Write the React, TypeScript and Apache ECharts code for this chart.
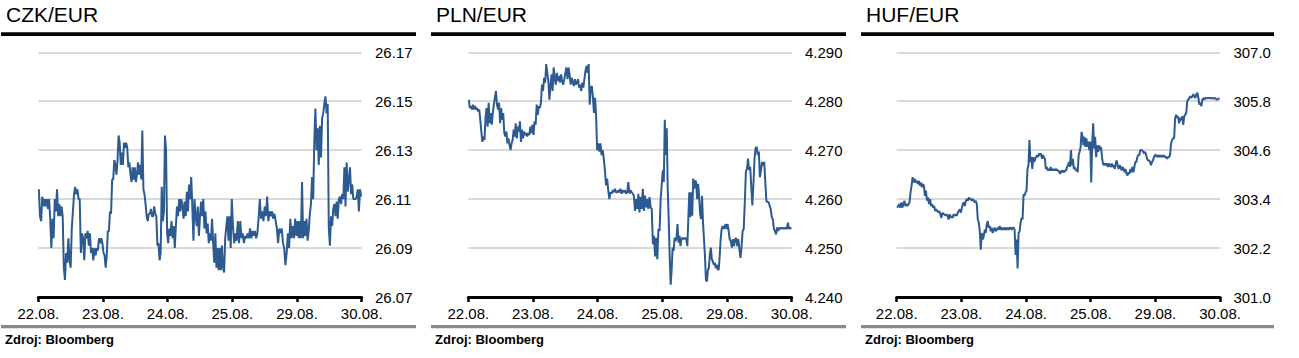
import React, { useEffect, useRef } from "react";
import * as echarts from "echarts";

const dates = ["22.08.", "23.08.", "24.08.", "25.08.", "29.08.", "30.08."];
const titles = ["CZK/EUR", "PLN/EUR", "HUF/EUR"];
const source = "Zdroj: Bloomberg";

// CZK/EUR, one array per trading day
const czk_22 = [26.114, 26.103, 26.101, 26.111, 26.107, 26.110, 26.107, 26.110, 26.106, 26.110, 26.102, 26.090, 26.102, 26.094, 26.110, 26.105, 26.114, 26.103, 26.108, 26.103, 26.107, 26.103, 26.082, 26.077, 26.088, 26.084, 26.094, 26.085, 26.082, 26.098, 26.105, 26.112, 26.115, 26.112, 26.114, 26.110, 26.110, 26.088, 26.096, 26.094, 26.085, 26.096, 26.094, 26.097, 26.091, 26.096, 26.088, 26.090, 26.085, 26.090, 26.087, 26.090, 26.089, 26.094, 26.092, 26.094, 26.092];
const czk_23 = [26.088, 26.087, 26.082, 26.087, 26.097, 26.097, 26.105, 26.104, 26.118, 26.118, 26.126, 26.124, 26.120, 26.126, 26.136, 26.133, 26.124, 26.129, 26.124, 26.133, 26.131, 26.133, 26.131, 26.123, 26.125, 26.120, 26.117, 26.123, 26.118, 26.123, 26.117, 26.120, 26.125, 26.120, 26.124, 26.118, 26.138, 26.114, 26.112, 26.108, 26.103, 26.101, 26.104, 26.104, 26.106, 26.103, 26.103, 26.107, 26.104, 26.103, 26.091, 26.092, 26.085, 26.088, 26.115, 26.101, 26.105, 26.136, 26.130, 26.096];
const czk_24 = [26.092, 26.098, 26.095, 26.101, 26.094, 26.099, 26.090, 26.099, 26.107, 26.103, 26.110, 26.105, 26.110, 26.107, 26.102, 26.109, 26.103, 26.113, 26.105, 26.116, 26.110, 26.119, 26.107, 26.093, 26.110, 26.103, 26.099, 26.107, 26.095, 26.103, 26.109, 26.103, 26.110, 26.098, 26.105, 26.096, 26.100, 26.092, 26.096, 26.093, 26.102, 26.092, 26.084, 26.096, 26.082, 26.090, 26.081, 26.090, 26.081, 26.091, 26.082, 26.080, 26.094, 26.099, 26.103, 26.093, 26.103, 26.090, 26.110];
const czk_25 = [26.099, 26.092, 26.096, 26.093, 26.101, 26.092, 26.101, 26.094, 26.096, 26.092, 26.095, 26.094, 26.096, 26.094, 26.098, 26.094, 26.097, 26.095, 26.097, 26.094, 26.096, 26.102, 26.110, 26.102, 26.105, 26.101, 26.107, 26.103, 26.111, 26.101, 26.105, 26.103, 26.105, 26.102, 26.104, 26.101, 26.098, 26.092, 26.098, 26.096, 26.098, 26.092, 26.090, 26.083, 26.088, 26.096, 26.090, 26.102, 26.094, 26.099, 26.094, 26.102, 26.095];
const czk_29 = [26.101, 26.094, 26.101, 26.094, 26.117, 26.094, 26.101, 26.095, 26.102, 26.093, 26.097, 26.104, 26.108, 26.119, 26.110, 26.134, 26.147, 26.130, 26.139, 26.124, 26.140, 26.127, 26.143, 26.145, 26.149, 26.152, 26.145, 26.149, 26.098, 26.091, 26.103, 26.099, 26.106, 26.108, 26.103, 26.109, 26.102, 26.110, 26.111, 26.108, 26.112, 26.110, 26.123, 26.107, 26.125, 26.113, 26.118, 26.123, 26.112, 26.116, 26.110, 26.110, 26.110, 26.111, 26.114, 26.105, 26.114, 26.111];

// PLN/EUR
const pln_22 = [4.2803, 4.2786, 4.2790, 4.2783, 4.2793, 4.2783, 4.2790, 4.2783, 4.2786, 4.2779, 4.2783, 4.2762, 4.2738, 4.2717, 4.2728, 4.2721, 4.2766, 4.2786, 4.2748, 4.2797, 4.2755, 4.2776, 4.2752, 4.2776, 4.2793, 4.2807, 4.2821, 4.2793, 4.2783, 4.2797, 4.2755, 4.2786, 4.2762, 4.2776, 4.2735, 4.2728, 4.2738, 4.2714, 4.2724, 4.2711, 4.2700, 4.2714, 4.2721, 4.2742, 4.2728, 4.2755, 4.2724, 4.2748, 4.2738, 4.2759, 4.2717, 4.2742, 4.2724, 4.2738, 4.2731, 4.2735, 4.2728, 4.2735, 4.2731, 4.2748, 4.2735, 4.2752];
const pln_23 = [4.2731, 4.2759, 4.2752, 4.2793, 4.2772, 4.2790, 4.2786, 4.2797, 4.2834, 4.2821, 4.2848, 4.2838, 4.2876, 4.2858, 4.2841, 4.2803, 4.2831, 4.2855, 4.2821, 4.2869, 4.2848, 4.2834, 4.2858, 4.2841, 4.2852, 4.2838, 4.2855, 4.2841, 4.2834, 4.2845, 4.2858, 4.2869, 4.2845, 4.2869, 4.2855, 4.2834, 4.2848, 4.2838, 4.2831, 4.2845, 4.2834, 4.2838, 4.2845, 4.2828, 4.2834, 4.2821, 4.2838, 4.2828, 4.2845, 4.2862, 4.2872, 4.2858, 4.2876, 4.2793, 4.2828, 4.2831, 4.2810, 4.2776, 4.2807, 4.2772, 4.2700];
const pln_24 = [4.2714, 4.2697, 4.2714, 4.2690, 4.2700, 4.2683, 4.2659, 4.2628, 4.2642, 4.2618, 4.2600, 4.2614, 4.2611, 4.2618, 4.2614, 4.2621, 4.2614, 4.2614, 4.2618, 4.2614, 4.2621, 4.2611, 4.2618, 4.2614, 4.2618, 4.2611, 4.2614, 4.2635, 4.2611, 4.2618, 4.2614, 4.2611, 4.2607, 4.2576, 4.2600, 4.2580, 4.2611, 4.2573, 4.2604, 4.2580, 4.2621, 4.2576, 4.2607, 4.2583, 4.2600, 4.2580, 4.2604, 4.2583, 4.2580, 4.2508, 4.2525, 4.2483, 4.2521, 4.2477, 4.2539, 4.2535, 4.2600, 4.2631];
const pln_25 = [4.2659, 4.2635, 4.2762, 4.2690, 4.2745, 4.2621, 4.2559, 4.2483, 4.2425, 4.2456, 4.2501, 4.2494, 4.2521, 4.2514, 4.2521, 4.2549, 4.2511, 4.2525, 4.2504, 4.2521, 4.2518, 4.2521, 4.2518, 4.2521, 4.2518, 4.2504, 4.2559, 4.2614, 4.2563, 4.2614, 4.2566, 4.2642, 4.2621, 4.2638, 4.2635, 4.2600, 4.2631, 4.2607, 4.2570, 4.2559, 4.2607, 4.2552, 4.2518, 4.2483, 4.2435, 4.2432, 4.2456, 4.2459, 4.2487, 4.2501, 4.2477, 4.2473, 4.2466, 4.2470, 4.2459, 4.2466, 4.2456, 4.2456, 4.2483, 4.2518, 4.2539, 4.2545, 4.2539, 4.2542, 4.2549, 4.2539];
const pln_29 = [4.2549, 4.2535, 4.2518, 4.2514, 4.2501, 4.2518, 4.2504, 4.2518, 4.2521, 4.2504, 4.2518, 4.2497, 4.2480, 4.2504, 4.2535, 4.2539, 4.2594, 4.2656, 4.2662, 4.2683, 4.2659, 4.2666, 4.2625, 4.2587, 4.2631, 4.2683, 4.2704, 4.2707, 4.2690, 4.2697, 4.2645, 4.2659, 4.2676, 4.2669, 4.2676, 4.2635, 4.2597, 4.2594, 4.2594, 4.2587, 4.2580, 4.2563, 4.2559, 4.2539, 4.2535, 4.2528, 4.2542, 4.2535, 4.2542, 4.2539, 4.2542, 4.2539, 4.2542, 4.2539, 4.2542, 4.2539, 4.2552, 4.2539, 4.2542, 4.2539];

// HUF/EUR
const huf_22 = [303.19, 303.23, 303.28, 303.19, 303.32, 303.19, 303.28, 303.36, 303.23, 303.28, 303.23, 303.28, 303.32, 303.57, 303.73, 303.94, 303.81, 303.90, 303.81, 303.85, 303.77, 303.85, 303.73, 303.81, 303.69, 303.77, 303.73, 303.48, 303.61, 303.36, 303.44, 303.28, 303.40, 303.23, 303.28, 303.19, 303.23, 303.11, 303.15, 303.11, 303.07, 303.11, 303.03, 302.94, 303.07, 303.03, 303.03, 302.99, 303.03, 302.99, 302.90, 303.03, 302.94, 302.99, 302.94, 303.03, 302.99, 303.03, 302.99, 303.07, 303.11, 303.15, 303.07];
const huf_23 = [303.19, 303.28, 303.32, 303.23, 303.36, 303.40, 303.36, 303.44, 303.40, 303.40, 303.36, 303.40, 303.36, 303.32, 303.36, 303.28, 302.90, 302.82, 302.61, 302.16, 302.57, 302.41, 302.49, 302.65, 302.57, 302.78, 302.86, 302.70, 302.74, 302.61, 302.70, 302.57, 302.65, 302.70, 302.61, 302.65, 302.70, 302.65, 302.74, 302.65, 302.70, 302.65, 302.70, 302.65, 302.70, 302.65, 302.70, 302.65, 302.70, 302.70, 302.65, 302.70, 302.70, 302.65, 302.03, 302.41, 301.70, 302.57, 302.61, 302.82, 302.94, 302.90, 303.52, 303.48, 303.57];
const huf_24 = [303.61, 304.14, 304.23, 304.85, 304.31, 304.43, 304.14, 304.43, 304.31, 304.39, 304.43, 304.48, 304.43, 304.52, 304.48, 304.52, 304.39, 304.48, 304.43, 304.39, 304.14, 304.19, 304.10, 304.14, 304.10, 304.19, 304.10, 304.14, 304.10, 304.14, 304.10, 304.14, 304.10, 304.10, 304.06, 304.02, 304.10, 304.06, 304.10, 304.06, 304.10, 304.10, 304.19, 304.23, 304.31, 304.19, 304.60, 304.23, 304.39, 304.14, 304.19, 304.10, 304.14, 304.06, 304.48, 304.56, 304.68, 305.05, 304.93, 304.72, 304.93, 304.68, 304.89, 304.68, 304.81, 304.60, 304.81];
const huf_25 = [303.81, 304.77, 305.26, 304.64, 304.93, 304.43, 304.72, 304.56, 304.72, 304.60, 304.68, 304.43, 304.27, 304.23, 304.27, 304.23, 304.27, 304.19, 304.27, 304.23, 304.19, 304.27, 304.19, 304.23, 304.14, 304.27, 304.35, 304.23, 304.14, 304.23, 304.19, 304.10, 304.19, 304.14, 304.06, 304.14, 304.02, 303.98, 304.06, 304.02, 304.14, 304.06, 304.19, 304.06, 304.19, 304.31, 304.31, 304.43, 304.48, 304.48, 304.60, 304.60, 304.60, 304.56, 304.52, 304.56, 304.48, 304.39, 304.35, 304.35, 304.31, 304.23, 304.31, 304.35, 304.43, 304.48];
const huf_29 = [304.48, 304.43, 304.48, 304.43, 304.48, 304.43, 304.48, 304.43, 304.48, 304.43, 304.43, 304.39, 304.43, 304.43, 304.48, 304.77, 304.85, 304.89, 304.89, 305.39, 305.47, 305.39, 305.43, 305.26, 305.39, 305.34, 305.43, 305.22, 305.43, 305.47, 305.51, 305.80, 305.84, 305.88, 305.92, 305.88, 305.92, 305.97, 305.92, 305.88, 305.97, 306.01, 305.88, 305.72, 305.76, 305.68, 305.84, 305.88, 305.84, 305.88, 305.88, 305.87, 305.88, 305.88, 305.87, 305.88, 305.87, 305.87, 305.88, 305.87, 305.84, 305.84, 305.87, 305.87];

const seriesDays = [
  [czk_22, czk_23, czk_24, czk_25, czk_29],
  [pln_22, pln_23, pln_24, pln_25, pln_29],
  [huf_22, huf_23, huf_24, huf_25, huf_29],
];

// y-axis scales: min, max, step, decimals
const yMin = [26.07, 4.24, 301.0];
const yMax = [26.17, 4.29, 307.0];
const yStep = [0.02, 0.01, 1.2];
const yDecimals = [2, 3, 1];

const FONT = "Liberation Sans";
const LINE_COLOR = "#2c5a91";

const layout = [
  { lineX: 1, lineW: 415, gridLeft: 38.3, titleX: 6 },
  { lineX: 431, lineW: 415, gridLeft: 468.3, titleX: 436 },
  { lineX: 861, lineW: 413, gridLeft: 896.7, titleX: 866 },
];

function toPoints(days: number[][]) {
  const pts: number[][] = [];
  days.forEach((arr, d) => {
    arr.forEach((v, j) => {
      pts.push([d + (j + 0.5) / arr.length, v]);
    });
  });
  return pts;
}

export default function App() {
  const ref = useRef<HTMLDivElement>(null);

  useEffect(() => {
    if (!ref.current) return;
    const chart = echarts.init(ref.current, undefined, { renderer: "svg" });

    const grids: any[] = [];
    const xAxes: any[] = [];
    const yAxes: any[] = [];
    const series: any[] = [];
    const graphics: any[] = [];

    layout.forEach((p, i) => {
      grids.push({ left: p.gridLeft, top: 52.3, width: 323.4, height: 244.7 });
      xAxes.push({
        gridIndex: i,
        type: "value",
        min: 0,
        max: 5,
        interval: 1,
        axisLine: { show: true, onZero: false, lineStyle: { color: "#000", width: 3 } },
        axisTick: { show: true, length: 5, lineStyle: { color: "#000", width: 2.5 } },
        axisLabel: {
          fontSize: 15,
          fontFamily: FONT,
          color: "#000",
          formatter: (v: number) => dates[Math.round(v)] ?? "",
          margin: 9,
          showMinLabel: true,
          showMaxLabel: true,
        },
        splitLine: { show: false },
      });
      yAxes.push({
        gridIndex: i,
        type: "value",
        position: "right",
        min: yMin[i],
        max: yMax[i],
        interval: yStep[i],
        axisLine: { show: false },
        axisTick: { show: false },
        axisLabel: {
          fontSize: 15,
          fontFamily: FONT,
          color: "#000",
          formatter: (v: number) => v.toFixed(yDecimals[i]),
          margin: 13.3,
          showMinLabel: true,
          showMaxLabel: true,
        },
        splitLine: { show: true, lineStyle: { color: "#d9d9d9", width: 2 } },
      });
      series.push({
        type: "line",
        xAxisIndex: i,
        yAxisIndex: i,
        data: toPoints(seriesDays[i]),
        showSymbol: false,
        symbol: "none",
        silent: true,
        lineStyle: { color: LINE_COLOR, width: 2 },
      });
      graphics.push(
        {
          type: "text",
          x: p.titleX,
          y: 14.7,
          style: { text: titles[i], font: `21px ${FONT}`, fill: "#000", verticalAlign: "middle" },
        },
        {
          type: "rect",
          shape: { x: p.lineX, y: 32.3, width: p.lineW, height: 3.7 },
          style: { fill: "#000" },
        },
        {
          type: "rect",
          shape: { x: p.lineX, y: 325, width: p.lineW, height: 3.3 },
          style: { fill: "#8a8a8a" },
        },
        {
          type: "text",
          x: p.lineX + 4,
          y: 339.5,
          style: { text: source, font: `bold 13px ${FONT}`, fill: "#000", verticalAlign: "middle" },
        }
      );
    });

    chart.setOption({
      animation: false,
      backgroundColor: "#fff",
      grid: grids,
      xAxis: xAxes,
      yAxis: yAxes,
      series,
      graphic: { elements: graphics },
    });

    return () => chart.dispose();
  }, []);

  return (
    <div
      ref={ref}
      style={{ position: "fixed", left: 0, top: 0, width: 1299, height: 358, background: "#fff" }}
    />
  );
}
